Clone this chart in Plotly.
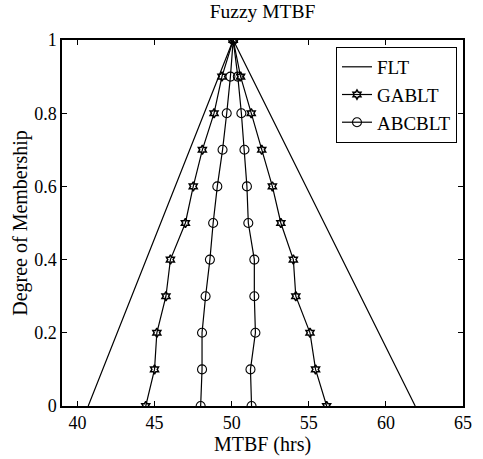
import plotly.graph_objects as go

levels = [0, 0.1, 0.2, 0.3, 0.4, 0.5, 0.6, 0.7, 0.8, 0.9, 1.0]

flt_x = [40.7, 50.1, 61.9]
flt_y = [0, 1, 0]

gablt_left = [44.43, 45.0, 45.15, 45.74, 46.03, 47.0, 47.51, 48.1, 48.86, 49.37, 50.1]
gablt_right = [56.16, 55.44, 55.08, 54.16, 54.0, 53.19, 52.64, 51.95, 51.27, 50.58, 50.1]

abcblt_left = [47.99, 48.08, 48.08, 48.31, 48.59, 48.8, 49.07, 49.41, 49.68, 49.92, 50.1]
abcblt_right = [51.29, 51.22, 51.54, 51.47, 51.47, 51.08, 50.99, 50.83, 50.63, 50.4, 50.1]

def tri(left, right):
    xs = list(left) + list(reversed(right[:-1]))
    ys = list(levels) + list(reversed(levels[:-1]))
    return xs, ys

FONT = "Liberation Serif"

fig = go.Figure()
fig.add_trace(go.Scatter(x=flt_x, y=flt_y, mode="lines", name="FLT",
                         line=dict(color="black", width=1.2)))
gx, gy = tri(gablt_left, gablt_right)
fig.add_trace(go.Scatter(x=gx, y=gy, mode="lines+markers", name="GABLT",
                         line=dict(color="black", width=1.2),
                         marker=dict(symbol="hexagram-open", size=7, color="black",
                                     line=dict(width=1.5, color="black"))))
ax, ay = tri(abcblt_left, abcblt_right)
fig.add_trace(go.Scatter(x=ax, y=ay, mode="lines+markers", name="ABCBLT",
                         line=dict(color="black", width=1.2),
                         marker=dict(symbol="circle-open", size=9, color="black",
                                     line=dict(width=1.1, color="black"))))

axis_common = dict(showgrid=False, zeroline=False, showline=True, linecolor="black",
                   linewidth=1.5, mirror="ticks", ticks="inside", ticklen=5,
                   tickcolor="black", tickwidth=1,
                   tickfont=dict(family=FONT, size=18, color="black"))

fig.update_layout(
    width=483, height=459,
    margin=dict(l=62, r=11, t=40, b=53),
    paper_bgcolor="white", plot_bgcolor="white",
    title=dict(text="Fuzzy MTBF", x=0.5, xanchor="center", xref="paper",
               y=1, yref="container", yanchor="top", pad=dict(t=4),
               font=dict(family=FONT, size=19.5, color="black")),
    xaxis=dict(range=[39, 65], tickvals=[40, 45, 50, 55, 60, 65],
               title=dict(text="MTBF (hrs)", standoff=0,
                          font=dict(family=FONT, size=20, color="black")),
               **axis_common),
    yaxis=dict(range=[0, 1], tickvals=[0, 0.2, 0.4, 0.6, 0.8, 1],
               ticktext=["0", "0.2", "0.4", "0.6", "0.8", "1"],
               title=dict(text="Degree of Membership", standoff=1,
                          font=dict(family=FONT, size=20, color="black")),
               **axis_common),
    legend=dict(x=0.985, y=0.981, xanchor="right", yanchor="top",
                bgcolor="white", bordercolor="black", borderwidth=1,
                font=dict(family=FONT, size=19, color="black"),
                tracegroupgap=0, itemwidth=30),
    showlegend=True,
)

fig.write_html("out.html", config={"displayModeBar": False},
               post_script="document.body.style.margin='0';document.body.style.padding='0';")
